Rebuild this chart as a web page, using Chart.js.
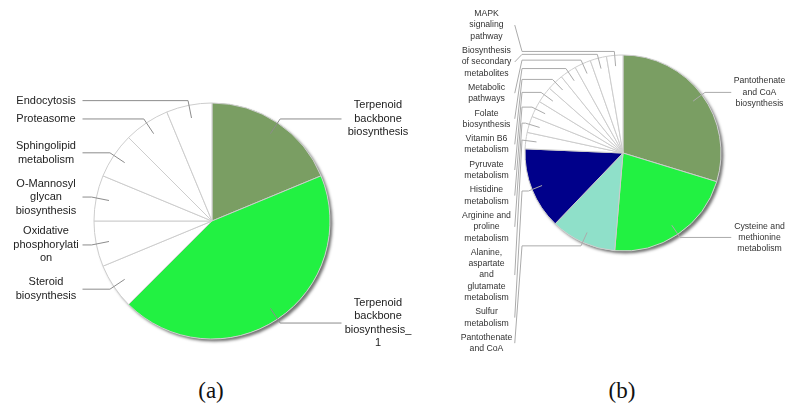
<!DOCTYPE html>
<html>
<head>
<meta charset="utf-8">
<title>Pathway pies</title>
<script src="https://cdn.jsdelivr.net/npm/chart.js@4.4.1/dist/chart.umd.min.js"></script>
<style>
    body { margin: 0; background: #fff; width: 786px; height: 407px; position: relative; overflow: hidden; }
    canvas { position: absolute; top: 0; }
    #pieA { left: 0; }
    #pieB { left: 420px; }
    .caption {
        position: absolute; top: 379px; width: 80px; margin-left: -40px;
        text-align: center; font-family: 'Liberation Serif', serif; font-size: 23px; line-height: 23px; color: #111;
    }
</style>
</head>
<body>
<canvas id="pieA" width="420" height="360"></canvas>
<canvas id="pieB" width="366" height="360"></canvas>
<div class="caption" style="left:211px">(a)</div>
<div class="caption" style="left:622px">(b)</div>

<script>
// (a) pathways and gene counts, clockwise from 12 o'clock
const pathwaysA = [
    'Terpenoid backbone biosynthesis',
    'Terpenoid backbone biosynthesis_1',
    'Steroid biosynthesis',
    'Oxidative phosphorylation',
    'O-Mannosyl glycan biosynthesis',
    'Sphingolipid metabolism',
    'Proteasome',
    'Endocytosis'
];
const countsA = [3, 7, 1, 1, 1, 1, 1, 1];

// (b) pathways and gene counts, clockwise from 12 o'clock
const pathwaysB = [
    'Pantothenate and CoA biosynthesis',
    'Cysteine and methionine metabolism',
    'Pantothenate and CoA',
    'Sulfur metabolism',
    'Alanine, aspartate and glutamate metabolism',
    'Arginine and proline metabolism',
    'Histidine metabolism',
    'Pyruvate metabolism',
    'Vitamin B6 metabolism',
    'Folate biosynthesis',
    'Metabolic pathways',
    'Biosynthesis of secondary metabolites',
    'MAPK signaling pathway'
];
const countsB = [11, 8, 4, 5, 1, 1, 1, 1, 1, 1, 1, 1, 1];

// first few slices get a colour, the rest stay white
function sliceColors(n, head) {
    return Array.from({ length: n }, (_, i) => head[i] || '#ffffff');
}

function wrapLabel(ctx, text, maxWidth) {
    const lines = [];
    let line = '';
    text.split(' ').forEach(word => {
        const test = line ? line + ' ' + word : word;
        if (ctx.measureText(test).width <= maxWidth) {
            line = test;
            return;
        }
        if (line) lines.push(line);
        // long words get broken by characters
        let chunk = '';
        for (const ch of word) {
            if (chunk && ctx.measureText(chunk + ch).width > maxWidth) {
                lines.push(chunk);
                chunk = ch;
            } else {
                chunk += ch;
            }
        }
        line = chunk;
    });
    if (line) lines.push(line);
    return lines;
}

// push label blocks apart so they don't overlap, keep inside [minY, maxY]
function stackLabels(items, o) {
    items.sort((a, b) => a.idealY - b.idealY);
    let prevBottom = -Infinity;
    items.forEach(it => {
        it.h = it.lines.length * o.lineHeight;
        it.top = Math.max(it.idealY - it.h / 2, prevBottom + o.gap, o.minY);
        prevBottom = it.top + it.h;
    });
    let nextTop = o.maxY + o.gap;
    for (let i = items.length - 1; i >= 0; i--) {
        const it = items[i];
        if (it.top + it.h > nextTop - o.gap) it.top = nextTop - o.gap - it.h;
        nextTop = it.top;
    }
}

const calloutPlugin = {
    id: 'callouts',
    beforeDatasetsDraw(chart, args, o) {
        // white disc with a soft drop shadow behind the slices
        const arc = chart.getDatasetMeta(0).data[0];
        const ctx = chart.ctx;
        ctx.save();
        ctx.beginPath();
        ctx.arc(arc.x, arc.y, arc.outerRadius, 0, Math.PI * 2);
        ctx.fillStyle = '#fff';
        ctx.shadowColor = 'rgba(0,0,0,0.55)';
        ctx.shadowBlur = 3;
        ctx.shadowOffsetX = 2.5;
        ctx.shadowOffsetY = 2.5;
        ctx.fill();
        ctx.restore();
    },
    afterDatasetsDraw(chart, args, o) {
        const ctx = chart.ctx;
        const meta = chart.getDatasetMeta(0);
        const labels = chart.data.labels;
        ctx.save();
        ctx.font = o.font;
        const sides = { left: [], right: [] };
        meta.data.forEach((arc, i) => {
            const mid = (arc.startAngle + arc.endAngle) / 2;
            const cos = Math.cos(mid), sin = Math.sin(mid);
            const item = {
                side: cos >= 0 ? 'right' : 'left',
                ax: arc.x + cos * arc.outerRadius * 0.89,
                ay: arc.y + sin * arc.outerRadius * 0.89,
                ex: arc.x + cos * arc.outerRadius * 1.04,
                ey: arc.y + sin * arc.outerRadius * 1.04,
                cx: arc.x,
                lines: wrapLabel(ctx, labels[i], o.wrapWidth)
            };
            item.idealY = item.ey;
            sides[item.side].push(item);
        });

        stackLabels(sides.left, o);
        stackLabels(sides.right, o);

        ctx.strokeStyle = o.lineColor;
        ctx.lineWidth = 1;
        ctx.fillStyle = o.textColor;
        ctx.textAlign = 'center';
        ctx.textBaseline = 'middle';
        [...sides.left, ...sides.right].forEach(it => {
            const dir = it.side === 'right' ? 1 : -1;
            const ly = it.top + it.h / 2;
            const colX = it.cx + dir * o.bendOffset;
            const edgeX = it.cx + dir * (o.textOffset - o.wrapWidth / 2 - 2);

            ctx.beginPath();
            ctx.moveTo(it.ax, it.ay);
            ctx.lineTo(it.ex, it.ey);
            ctx.lineTo(colX, it.ey);
            ctx.lineTo(edgeX, ly);
            ctx.stroke();

            const tx = it.cx + dir * o.textOffset;
            it.lines.forEach((line, k) => {
                ctx.fillText(line, tx, it.top + o.lineHeight * (k + 0.5));
            });
        });
        ctx.restore();
    }
};

function makePie(id, labels, values, colors, radius, padding, callouts) {
    return new Chart(document.getElementById(id), {
        type: 'pie',
        data: {
            labels: labels,
            datasets: [{
                data: values,
                backgroundColor: colors,
                borderColor: '#cdcdcd',
                borderWidth: 1
            }]
        },
        options: {
            responsive: false,
            animation: false,
            events: [],
            radius: radius,
            layout: { padding: padding },
            plugins: {
                legend: { display: false },
                tooltip: { enabled: false },
                callouts: callouts
            }
        },
        plugins: [calloutPlugin]
    });
}

makePie('pieA', pathwaysA, countsA,
    sliceColors(pathwaysA.length, ['#7a9e63', '#22f142']),
    118, { left: 4, top: 82, right: 0, bottom: 0 },
    {
        font: '11px "Liberation Sans", Arial, sans-serif',
        lineHeight: 13.5, gap: 3, wrapWidth: 69,
        textOffset: 166, bendOffset: 128,
        minY: 2, maxY: 358,
        lineColor: '#8c8c8c', textColor: '#222'
    });

makePie('pieB', pathwaysB, countsB,
    sliceColors(pathwaysB.length, ['#7a9e63', '#22f142', '#8fe0c9', '#00008a']),
    98, { left: 40, top: 0, right: 0, bottom: 54 },
    {
        font: '8.7px "Liberation Sans", Arial, sans-serif',
        lineHeight: 11.3, gap: 3, wrapWidth: 52.5,
        textOffset: 136.5, bendOffset: 101,
        minY: 8, maxY: 354.5,
        lineColor: '#ababab', textColor: '#333'
    });
</script>
</body>
</html>
